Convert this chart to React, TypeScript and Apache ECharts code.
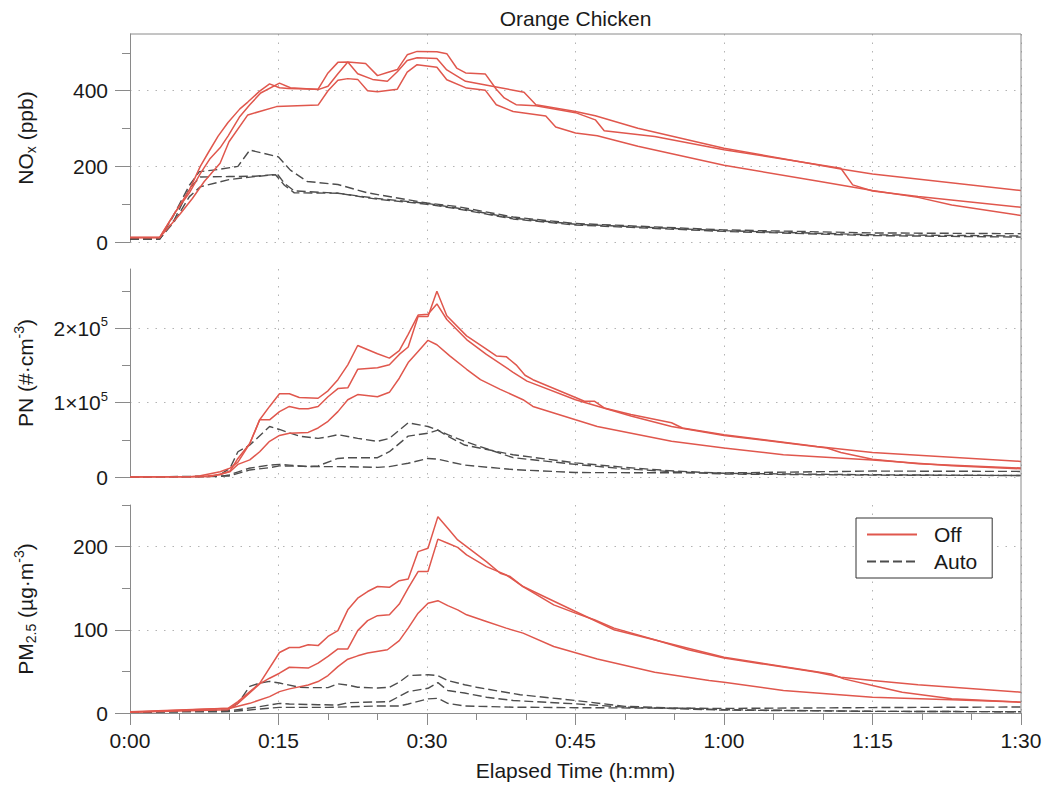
import React, { useEffect, useRef } from 'react';
import * as echarts from 'echarts';

type Pt = [number, number];

// ---------- texts & ticks ----------
const titleText = 'Orange Chicken';
const xTitle = 'Elapsed Time (h:mm)';
const xMin = 0;
const xMax = 90;
const xStep = 15;

const noxMax = 550;
const noxMajor = [0, 200, 400];
const noxMinor = [100, 300, 500];
// PN values are stored in units of 10^3 #/cm3
const pnMax = 280;
const pnMajor = [0, 100, 200];
const pnMinor = [50, 150, 250];
const pmMax = 250;
const pmMajor = [0, 100, 200];
const pmMinor = [50, 150, 250];

const legendNames = ['Off', 'Auto'];

// ---------- NOx (ppb) ----------
const noxOffA: Pt[] = [[0,12],[3,12],[4.6,80],[6,130],[7.1,181],[8.1,221],[9.1,249],[9.9,280],[11.1,332],[12.1,363],[13.2,394],[15.1,420],[16.2,408],[19,403],[20,412],[21,445],[22,476],[23,445],[24.5,430],[26,425],[27,450],[28,480],[29,487],[31,485],[32,455],[33.9,425],[37,410],[39.8,396],[41,363],[45,345],[47,334],[51.3,301],[60,248],[71.8,193],[75,180],[90,136]];
const noxOffB: Pt[] = [[0,12],[3,12],[4.3,67],[6,138],[7.1,200],[7.9,236],[8.9,280],[9.9,316],[11.1,352],[11.9,370],[13.1,399],[14.1,418],[15.1,408],[16,406],[19,404],[20,447],[21,475],[22,476],[23.8,472],[25,440],[26,448],[27,456],[28,495],[29,504],[31,503],[32,498],[33,460],[33.9,447],[35.9,444],[37,404],[37.8,381],[39,363],[41,360],[45,342],[47,323],[47.9,294],[53,279],[60,244],[71.8,195],[73,151],[75,135],[79.6,120],[90,92]];
const noxOffC: Pt[] = [[0,12],[3,12],[5,72],[6.3,115],[7.5,160],[9.1,208],[10,265],[11.9,336],[14.8,358],[19,362],[20,400],[21,428],[22,432],[23,430],[24,400],[25,397],[27,404],[28,449],[29,469],[31,462],[32,429],[34,407],[35.9,401],[37,363],[38.7,345],[42,333],[43,304],[45,288],[47.2,281],[51.3,253],[60,203],[69.4,161],[75,136],[79.6,118],[83,98],[90,70]];
const noxAutoA: Pt[] = [[0,8],[3,8],[4.3,65],[6,150],[7,186],[9,192],[10.9,200],[12.1,243],[15,225],[16.2,190],[17.9,160],[21,152],[24,130],[30,103],[33,94],[38.7,66],[45,49],[60,32],[75,24],[90,22]];
const noxAutoB: Pt[] = [[0,8],[3,8],[4.5,60],[6,142],[7.1,172],[10,173],[12.6,174],[14.9,179],[15.6,155],[16.6,135],[21,129],[25,115],[30,102],[33,90],[38.7,63],[45,47],[60,30],[75,19],[90,16]];
const noxAutoC: Pt[] = [[0,8],[3,8],[4.5,55],[6,120],[7.1,146],[10,165],[12.6,173],[14.7,178],[15.6,150],[16.6,130],[21,129],[25,113],[30,100],[33,88],[38.7,61],[45,45],[60,28],[75,17],[90,13]];

// ---------- PN (10^3 #/cm3) ----------
const pnOffA: Pt[] = [[0,0],[7,0.5],[9.1,3],[10.1,8],[10.9,25],[12.1,45],[13.1,77],[14.1,77],[15.1,88],[16.1,95],[17.1,92],[18,92],[19,95],[20,108],[21,119],[22,120],[23,145],[25,147],[26.2,151],[27.2,165],[28.1,175],[29.1,216],[30.1,216],[31,250],[32,217],[34,190],[36,172],[37,163],[38,162],[39,151],[39.9,137],[40.7,131],[45,107],[45.9,102],[46.9,102],[47.9,93],[50.6,84],[54.7,73],[55.8,66],[60,57],[69.4,41],[75,33],[90,21]];
const pnOffB: Pt[] = [[0,0],[6,0.5],[7.1,1.8],[9.1,7],[10.1,12],[10.9,20],[12.1,45],[13.1,77],[14.1,95],[15.1,112],[16.1,112],[17.1,107],[19,106],[20,116],[21,131],[22,151],[23,177],[25,166],[26.2,160],[27.2,170],[28.1,192],[29.1,218],[30.1,219],[31,233],[32,212],[34,185],[36,165],[38.7,141],[40.1,129],[45,104],[50.6,82],[54.7,68],[60,56],[70.4,39],[71.8,33],[75,24],[79.6,18],[90,12]];
const pnOffC: Pt[] = [[0,0],[8,0.3],[10.1,7],[10.9,17],[12.1,23],[13.1,34],[14.1,48],[15.1,56],[16.1,59],[18,60],[19,66],[20,75],[21,88],[22,104],[23,111],[25,108],[26.2,114],[27.2,133],[28.1,154],[29.1,169],[30.1,184],[31,178],[32.3,163],[34,145],[35.4,131],[37.4,118],[39.7,104],[40.7,95],[45,77],[47.2,68],[54.7,48],[60,39],[66,30],[75,23],[83,15],[90,11]];
const pnAutoA: Pt[] = [[0,0],[8,0.5],[9.1,3],[10.1,12],[10.9,34],[12.1,43],[14.1,68],[15.1,64],[17.1,55],[19,52],[20,54],[21,57],[23,52],[25,48],[26.2,52],[27.2,63],[28.1,73],[30.1,68],[31.1,63],[32.1,55],[33.8,43],[38.7,30],[45,19],[50,13],[55,8],[60,5],[75,3],[90,2]];
const pnAutoB: Pt[] = [[0,0],[9,0.5],[10,2.7],[12,11.7],[14.1,16],[15.1,17],[16.1,16],[18,14],[19,15],[21,25],[22,26],[25,26],[26.2,34],[28.1,55],[30.1,59],[31.1,63],[32.1,57],[33.8,48],[38.7,26],[45,17],[50,11],[55,7],[60,4],[75,2.5],[90,2]];
const pnAutoC: Pt[] = [[0,0],[10,1.4],[12.1,9.5],[14.1,12.6],[15.1,15],[19,14],[21,14],[25,13],[26.2,14],[28.1,18.5],[30.1,25],[31.1,24],[32.1,21],[33.8,16],[38.7,10],[45,6],[60,5.5],[75,8],[90,7.5]];

// ---------- PM2.5 (ug/m3) ----------
const pmOffA: Pt[] = [[0,1.5],[9.9,5.6],[10.9,13.7],[13.1,35.7],[15.1,72.7],[16.1,78.7],[17.1,78.7],[18,82],[19,81],[20,92],[21,99],[22,124],[23,138],[24,146],[25,152],[26.2,151],[27.2,159],[28.1,161],[29.1,194],[30.1,198],[31.1,236],[32.1,222],[33.1,208],[34,200],[36,182],[37.4,168],[38.4,164],[39.7,152],[42.8,130],[45,120],[46.9,112],[48.9,102],[53,88],[56.4,76],[60,66],[65,57],[69.4,49],[71.8,43],[75,39],[79.6,34],[90,25]];
const pmOffB: Pt[] = [[0,1],[9.9,4],[10.9,11.6],[13.1,35],[14.1,41.8],[15.1,47.8],[16.1,55],[18,54],[19,60],[20,68],[21,77],[22,77],[23,99],[24,111],[25,117],[26.2,118],[27.2,131],[28.1,150],[29.1,170],[30.1,170],[31.1,209],[32.1,204],[33.1,199],[34,190],[36,176],[38,166],[39.7,152],[45,122],[48.9,100],[60,67],[70.8,47],[72.1,41],[75,33],[78,25],[83,17],[90,13]];
const pmOffC: Pt[] = [[0,1],[10.1,5.6],[12.1,11.6],[14.1,19.7],[15.1,25.7],[16.1,29],[18,33.7],[19,37.8],[20,45],[21,55.8],[22,64.7],[23,68.7],[24,72],[26,76],[27.2,87],[28.1,102],[29.1,120],[30.1,132],[31.1,135],[32.1,129],[33.1,124],[34,118],[36,110],[38,102],[39.7,96],[42.8,80],[47.2,65],[53,49],[58.5,39],[60,37],[66,27],[75,19],[83,16],[90,13]];
const pmAutoA: Pt[] = [[0,1],[9.9,3.6],[10.9,11.6],[12.1,32],[13.1,36],[14.1,38],[15.1,36],[17.1,31],[18,30.5],[20,30.5],[21,35],[22,33.5],[23,31],[25,30],[26.2,31],[27.2,37],[28.1,45],[30.1,46],[31.1,45],[32.1,39],[33.8,34],[35,31],[37.4,26],[39.4,22],[45,15],[50,8],[60,4],[75,2],[90,1.5]];
const pmAutoB: Pt[] = [[0,1],[10.1,2.8],[13.1,7.6],[15.1,11.6],[16.1,10.8],[19,10],[21,9.6],[22,12.4],[25,13.3],[26.2,13.7],[28.1,25.7],[30.1,29.7],[31.1,36.5],[32.1,27],[33.8,24],[36,19],[38.7,15],[45,11],[50,7],[60,3.5],[75,2],[90,1.5]];
const pmAutoC: Pt[] = [[0,1],[10.1,1.6],[15.1,6.8],[20,6.8],[25,8.4],[27.2,8.4],[28.1,10.8],[30.1,17],[31.1,17.7],[32.1,11.6],[33.8,8.4],[38.7,7],[45,6.4],[60,5.5],[75,6.5],[90,7.2]];

// ---------- styles / layout ----------
const FONT = "'Liberation Sans', Arial, Helvetica, sans-serif";
const TEXT = '#1a1a1a';
const AXIS = '#8a8a8a';
const GRIDC = '#b3b3b3';
const RED = '#e0574d';
const DASH = '#4d4d4d';
const PLOT_LEFT = 130;
const PLOT_W = 891;
const PANEL_H = 208;
const PANEL_TOPS = [34, 269, 505];

const fmtTime = (v: number) => `${Math.floor(v / 60)}:${String(Math.round(v % 60)).padStart(2, '0')}`;
const fmtPlain = (v: number) => String(v);
const fmtPN = (v: number) => (v === 0 ? '0' : `{m|${v / 100}×10}{s|5}`);

const panels = [
  { max: noxMax, major: noxMajor, minor: noxMinor, name: 'NO{sub|x} (ppb)', fmt: fmtPlain, off: [noxOffA, noxOffB, noxOffC], auto: [noxAutoA, noxAutoB, noxAutoC] },
  { max: pnMax, major: pnMajor, minor: pnMinor, name: 'PN (#·cm{sup|-3})', fmt: fmtPN, off: [pnOffA, pnOffB, pnOffC], auto: [pnAutoA, pnAutoB, pnAutoC] },
  { max: pmMax, major: pmMajor, minor: pmMinor, name: 'PM{sub|2.5} (µg·m{sup|-3})', fmt: fmtPlain, off: [pmOffA, pmOffB, pmOffC], auto: [pmAutoA, pmAutoB, pmAutoC] },
];

const dotted = { color: GRIDC, width: 1, type: [1.5, 7] as any };

function buildOption(): any {
  const grid = panels.map((_, i) => ({
    left: PLOT_LEFT, top: PANEL_TOPS[i], width: PLOT_W, height: PANEL_H,
    outerBoundsMode: 'none', containLabel: false,
  }));
  const xAxis = panels.map((_, i) => {
    const bottom = i === panels.length - 1;
    return {
      type: 'value', gridIndex: i, min: xMin, max: xMax, interval: xStep,
      axisLine: { show: bottom, onZero: false, lineStyle: { color: AXIS, width: 1 } },
      axisTick: { show: bottom, length: 12, lineStyle: { color: AXIS, width: 1 } },
      minorTick: { show: bottom, splitNumber: 3, length: 7, lineStyle: { color: AXIS, width: 1 } },
      axisLabel: { show: bottom, margin: 17, fontSize: 21, color: TEXT, fontFamily: FONT, formatter: fmtTime },
      splitLine: { show: true, lineStyle: dotted },
      name: bottom ? xTitle : '', nameLocation: 'middle', nameGap: 47,
      nameTextStyle: { fontSize: 21, color: TEXT, fontFamily: FONT },
    };
  });
  const yAxis: any[] = [];
  panels.forEach((p, i) => {
    yAxis.push({
      type: 'value', gridIndex: i, min: 0, max: p.max, position: 'left',
      axisLine: { show: true, onZero: false, lineStyle: { color: AXIS, width: 1 } },
      axisTick: { show: true, length: 15, customValues: p.major, lineStyle: { color: AXIS, width: 1 } },
      axisLabel: {
        customValues: p.major, margin: 22, fontSize: 21, color: TEXT, fontFamily: FONT, formatter: p.fmt,
        rich: {
          m: { fontSize: 21, lineHeight: 26, color: TEXT, fontFamily: FONT },
          s: { fontSize: 13, verticalAlign: 'top', color: TEXT, fontFamily: FONT },
        },
      },
      splitLine: { show: true, lineStyle: dotted },
      name: p.name, nameLocation: 'middle', nameRotate: 90, nameGap: 92,
      nameTextStyle: {
        fontSize: 21, lineHeight: 26, color: TEXT, fontFamily: FONT,
        rich: {
          sub: { fontSize: 14, verticalAlign: 'bottom', color: TEXT, fontFamily: FONT },
          sup: { fontSize: 14, verticalAlign: 'top', color: TEXT, fontFamily: FONT },
        },
      },
    });
  });
  panels.forEach((p, i) => {
    yAxis.push({
      type: 'value', gridIndex: i, min: 0, max: p.max, position: 'left',
      axisLine: { show: false },
      axisTick: { show: true, length: 8, customValues: p.minor, lineStyle: { color: AXIS, width: 1 } },
      axisLabel: { show: false },
      splitLine: { show: false },
    });
  });
  const series: any[] = [];
  panels.forEach((p, i) => {
    p.auto.forEach((d) => series.push({
      type: 'line', name: legendNames[1], xAxisIndex: i, yAxisIndex: i, data: d,
      symbol: 'none', showSymbol: false, silent: true, z: 2,
      lineStyle: { color: DASH, width: 1.4, type: [9, 4] }, itemStyle: { color: DASH },
    }));
    p.off.forEach((d) => series.push({
      type: 'line', name: legendNames[0], xAxisIndex: i, yAxisIndex: i, data: d,
      symbol: 'none', showSymbol: false, silent: true, z: 3,
      lineStyle: { color: RED, width: 1.5 }, itemStyle: { color: RED },
    }));
  });
  return {
    animation: false,
    backgroundColor: '#fff',
    title: {
      text: titleText, left: PLOT_LEFT + PLOT_W / 2, top: 8, textAlign: 'center', padding: 0,
      textStyle: { fontSize: 21, fontWeight: 'normal', color: TEXT, fontFamily: FONT },
    },
    legend: {
      data: legendNames, orient: 'vertical', left: 856, top: 518,
      padding: [6, 15, 6, 10], itemGap: 6, itemWidth: 50, itemHeight: 14,
      borderColor: '#333', borderWidth: 1, backgroundColor: '#fff', selectedMode: false,
      itemStyle: { opacity: 0 },
      textStyle: { fontSize: 21, color: TEXT, fontFamily: FONT, padding: [0, 0, 0, 12] },
    },
    grid, xAxis, yAxis, series,
    graphic: [
      { type: 'line', silent: true, z: 10, shape: { x1: PLOT_LEFT, y1: PANEL_TOPS[0], x2: PLOT_LEFT + PLOT_W, y2: PANEL_TOPS[0] }, style: { stroke: AXIS, lineWidth: 1 } },
      { type: 'line', silent: true, z: 10, shape: { x1: PLOT_LEFT + PLOT_W, y1: PANEL_TOPS[0], x2: PLOT_LEFT + PLOT_W, y2: PANEL_TOPS[2] + PANEL_H }, style: { stroke: AXIS, lineWidth: 1 } },
    ],
  };
}

export default function App() {
  const ref = useRef<HTMLDivElement>(null);
  useEffect(() => {
    if (!ref.current) return;
    const chart = echarts.init(ref.current, undefined, { renderer: 'svg' });
    chart.setOption(buildOption());
    return () => chart.dispose();
  }, []);
  return (
    <div
      ref={ref}
      style={{ position: 'absolute', left: 0, top: 0, width: 1058, height: 785, background: '#fff' }}
    />
  );
}
